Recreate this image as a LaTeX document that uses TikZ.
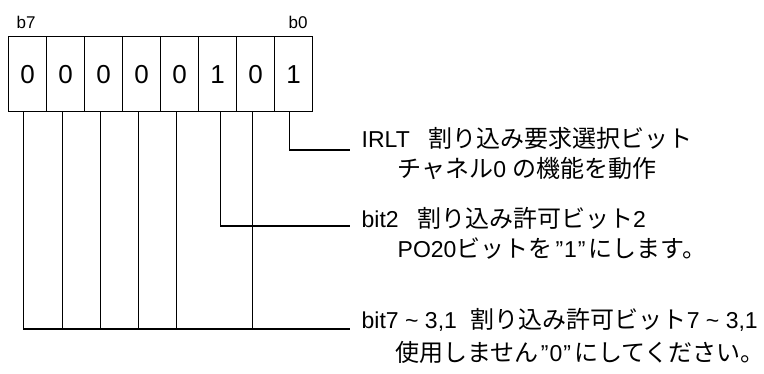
\documentclass[tikz,border=0pt]{standalone}
\usepackage{fontspec}
\setmainfont{Liberation Sans}
\newfontfamily\jpf{Noto Sans CJK JP}
\newcommand{\jp}{\jpf\fontsize{24}{24}\selectfont}
\begin{document}
\begin{tikzpicture}[x=1pt,y=-1pt, line width=1.4pt,
  cell/.style={draw, minimum width=38pt, minimum height=75pt, inner sep=0pt,
    font=\fontsize{26}{26}\selectfont, anchor=north west},
  lbl/.style={anchor=base west, inner sep=0pt, font=\fontsize{23}{23}\selectfont},
  bitlbl/.style={anchor=base west, inner sep=0pt, font=\fontsize{17}{17}\selectfont}]
\useasboundingbox (0,0) rectangle (764,373);
\node[cell] (c7) at (8,36) {0};
\node[cell] (c6) at (46,36) {0};
\node[cell] (c5) at (84,36) {0};
\node[cell] (c4) at (122,36) {0};
\node[cell] (c3) at (160,36) {0};
\node[cell] (c2) at (198,36) {1};
\node[cell] (c1) at (236,36) {0};
\node[cell] (c0) at (274,36) {1};
\node[bitlbl] (b7) at (16,28) {b7};
\node[bitlbl] (b0) at (288,28) {b0};
\coordinate (e0) at (350,150);
\coordinate (e2) at (350,226);
\coordinate (e7) at (350,329);
\draw ([xshift=-4pt]c0.south) |- (e0);
\draw ([xshift=3pt]c2.south) |- (e2);
\draw ([xshift=-4pt]c7.south) |- (e7);
\foreach \n in {c6,c5,c4,c3,c1}
  \draw ([xshift=-3.5pt]\n.south) -- ([xshift=-3.5pt]\n.south |- e7);
\node[lbl] (t0a) at (361,147) {IRLT\hspace{0.8em}{\jp 割り込み要求選択ビット}};
\node[lbl] (t0b) at (397,177) {{\jp チャネル}0 {\jp の機能を動作}};
\node[lbl] (t2a) at (361,227) {bit2\hspace{0.8em}{\jp 割り込み許可ビット}2};
\node[lbl] (t2b) at (397,257) {PO20{\jp ビットを}\hspace{3pt}”\hspace{1pt}1\hspace{1pt}”\hspace{3pt}{\jp にします。}};
\node[lbl] (t7a) at (361,328) {bit7 \textasciitilde{} 3,1\hspace{0.6em}{\jp 割り込み許可ビット}7 \textasciitilde{} 3,1};
\node[lbl] (t7b) at (395,361) {{\jp 使用しません}\hspace{2pt}”\hspace{1pt}0\hspace{1pt}”\hspace{3pt}{\jp にしてください。}};
\end{tikzpicture}
\end{document}
